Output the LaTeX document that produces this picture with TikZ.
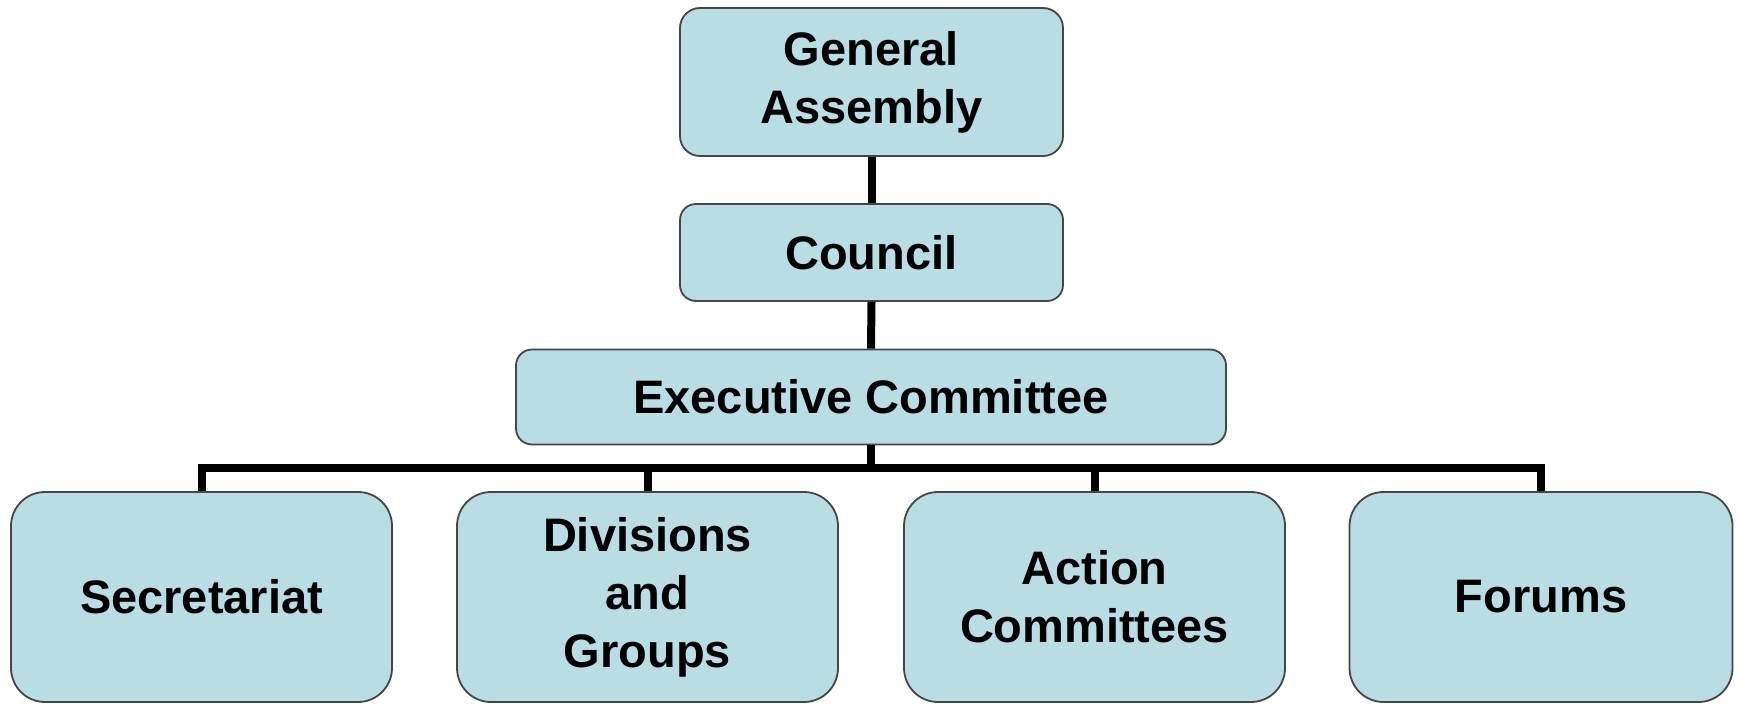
\documentclass[tikz,border=0pt]{standalone}
\usepackage{fontspec}
\setmainfont{Liberation Sans}
\begin{document}
\begin{tikzpicture}[x=1pt,y=-1pt,
  box/.style={draw=boxline, line width=1.8pt, fill=boxfill, align=center,
    font=\fontsize{47}{58}\selectfont\bfseries, inner sep=0pt},
  conn/.style={line width=8pt, draw=black, line join=miter}]
\definecolor{boxfill}{RGB}{184,222,227}
\definecolor{boxline}{RGB}{70,70,70}
\useasboundingbox (0,0) rectangle (1740,704);
\node[box, rounded corners=20pt, minimum width=383pt, minimum height=148pt] (ga) at (871.5,82) {General\\Assembly};
\node[box, rounded corners=16pt, minimum width=383pt, minimum height=97pt] (co) at (871.5,252.5) {Council};
\node[box, rounded corners=16pt, minimum width=710pt, minimum height=95pt] (ex) at (871,397) {Executive Committee};
\node[box, rounded corners=34pt, minimum width=381pt, minimum height=210pt] (se) at (201.5,597) {Secretariat};
\node[box, rounded corners=34pt, minimum width=381pt, minimum height=210pt] (dg) at (647.5,597) {Divisions\\and\\Groups};
\node[box, rounded corners=34pt, minimum width=381pt, minimum height=210pt] (ac) at (1094.5,597) {Action\\Committees};
\node[box, rounded corners=34pt, minimum width=383pt, minimum height=210pt] (fo) at (1541,597) {Forums};
\coordinate (bar) at (871,468);
\draw[conn] (ga.south) -- (co.north);
\draw[conn] (co.south) -- (ex.north);
\draw[conn] (ex.south) -- (bar);
\draw[conn] (se.north) |- (bar) -| (fo.north);
\draw[conn] (dg.north) -- (dg.north |- bar);
\draw[conn] (ac.north) -- (ac.north |- bar);
\end{tikzpicture}
\end{document}
